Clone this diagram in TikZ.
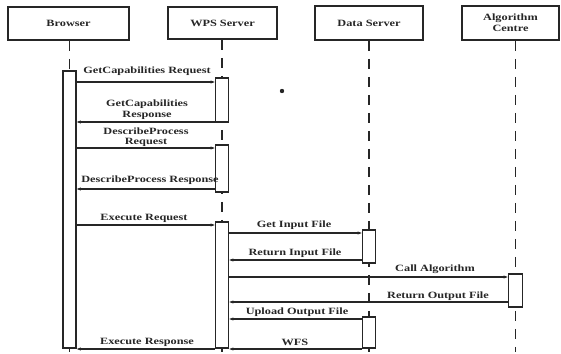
\documentclass[tikz,border=0pt]{standalone}
\usepackage{fontspec}
\setmainfont{Liberation Serif}[FakeStretch=1.28]
\usetikzlibrary{arrows.meta}
\begin{document}
\begin{tikzpicture}[x=1pt,y=-1pt,
  every node/.style={font=\fontsize{9.6}{11}\selectfont\bfseries, text=black!85},
  head/.style={draw=black!85, line width=1.5pt, fill=white, align=center, inner sep=0pt},
  act/.style={draw=black!85, line width=1.5pt, fill=white, minimum width=13pt, inner sep=0pt},
  life/.style={draw=black!85, line width=1.6pt, dash pattern=on 10pt off 8pt},
  msg/.style={draw=black!85, line width=1.2pt, -{Stealth[length=4pt,width=3pt]}},
  lbl/.style={inner sep=0pt, align=center}]
\useasboundingbox (0,0) rectangle (561,353);

% participant headers
\node[head, minimum width=121pt, minimum height=33pt] (hb) at (68.5,23.5) {Browser};
\node[head, minimum width=109pt, minimum height=32pt] (hw) at (222.5,23) {WPS Server};
\node[head, minimum width=108pt, minimum height=34pt] (hd) at (369,23) {Data Server};
\node[head, minimum width=97pt, minimum height=34pt] (ha) at (510.5,23) {Algorithm\\Centre};

% x positions of the lifelines
\coordinate (xb) at (69.5,0);
\coordinate (xw) at (222,0);
\coordinate (xd) at (369,0);
\coordinate (xa) at (515.5,0);

% lifelines
\draw[life] (hb.south -| xb) -- (xb |- 0,352);
\draw[life] (hw.south -| xw) -- (xw |- 0,352);
\draw[life] (hd.south -| xd) -- (xd |- 0,352);
\draw[life] (ha.south -| xa) -- (xa |- 0,352);

% activation bars
\node[act, minimum height=277pt] (ab) at (69.5,209.5) {};
\node[act, minimum height=44pt] (aw1) at (222,100) {};
\node[act, minimum height=47pt] (aw2) at (222,168.5) {};
\node[act, minimum height=126pt] (aw3) at (222,285) {};
\node[act, minimum height=33pt] (ad1) at (369,246.5) {};
\node[act, minimum height=31pt] (ad2) at (369,332.5) {};
\node[act, minimum height=33pt, minimum width=14pt] (aa) at (515.5,290.5) {};

% messages
\draw[msg] (ab.east |- 0,82) -- (aw1.west |- 0,82);
\draw[msg] (aw1.west |- 0,122) -- (ab.east |- 0,122);
\draw[msg] (ab.east |- 0,148) -- (aw2.west |- 0,148);
\draw[msg] (aw2.west |- 0,189) -- (ab.east |- 0,189);
\draw[msg] (ab.east |- 0,225) -- (aw3.west |- 0,225);
\draw[msg] (aw3.east |- 0,233) -- (ad1.west |- 0,233);
\draw[msg] (ad1.west |- 0,260) -- (aw3.east |- 0,260);
\draw[msg] (aw3.east |- 0,277) -- (aa.west |- 0,277);
\draw[msg] (aa.west |- 0,302) -- (aw3.east |- 0,302);
\draw[msg] (ad2.west |- 0,319) -- (aw3.east |- 0,319);
\draw[msg] (ad2.west |- 0,349) -- (aw3.east |- 0,349);
\draw[msg] (aw3.west |- 0,349) -- (ab.east |- 0,349);

% message labels
\node[lbl] (l1) at (147,71.5) {GetCapabilities Request};
\node[lbl] (l2) at (147,109.5) {GetCapabilities\\[-0.5pt]Response};
\node[lbl] (l3) at (146,137.5) {DescribeProcess\\[-1pt]Request};
\node[lbl] (l4) at (150,180) {DescribeProcess Response};
\node[lbl] (l5) at (144,218) {Execute Request};
\node[lbl] (l6) at (294,225) {Get Input File};
\node[lbl] (l7) at (295,253) {Return Input File};
\node[lbl] (l8) at (435,269) {Call Algorithm};
\node[lbl] (l9) at (438,296.5) {Return Output File};
\node[lbl] (l10) at (297,312.5) {Upload Output File};
\node[lbl] (l11) at (295,342.5) {WFS};
\node[lbl] (l12) at (147,342) {Execute Response};

% small dot
\fill[black!85] (282,91) circle (2.2pt);
\end{tikzpicture}
\end{document}
